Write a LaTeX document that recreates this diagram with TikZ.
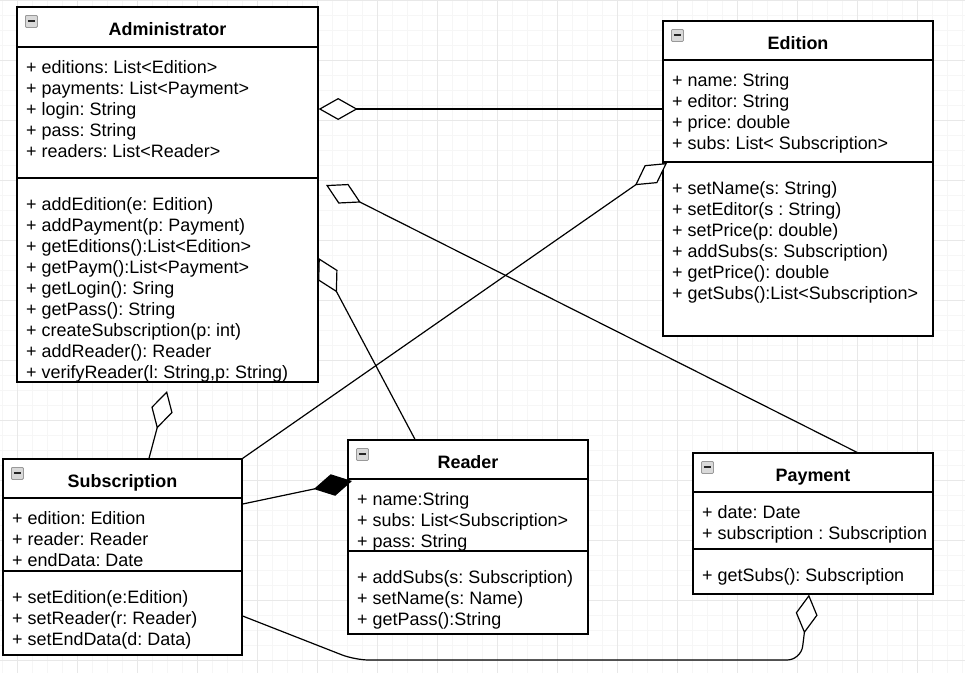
\documentclass[tikz,border=0pt]{standalone}
\usepackage{fontspec}
\setmainfont{Liberation Sans}
\usetikzlibrary{arrows.meta}
\newcommand\umlfont{\fontsize{17.95pt}{21pt}\selectfont\frenchspacing}

\begin{document}
\begin{tikzpicture}[x=1pt,y=-1pt]
	\tikzset{
		cls/.style={draw,line width=1.3pt,fill=white,inner sep=0pt},
		ttl/.style={font=\umlfont\bfseries,anchor=base,inner sep=0pt},
		txt/.style={font=\umlfont,align=left,anchor=north west,inner sep=0pt},
		tog/.style={draw=gray!80,fill=gray!30,line width=0.8pt,rounded corners=1pt,anchor=north west,
			minimum width=12pt,minimum height=12pt,inner sep=0pt,
			path picture={\draw[line width=2pt,gray!30!black]
				([xshift=2.5pt]path picture bounding box.west)--([xshift=-2.5pt]path picture bounding box.east);}},
		sep/.style={line width=1.3pt},
		agg/.style={line width=1.2pt,-{Diamond[fill=white,length=39pt,width=22pt]}},
		comp/.style={line width=1.2pt,-{Diamond[length=39pt,width=22pt]}}}
	\useasboundingbox (0,0) rectangle (965,673);
	\fill[white] (0,0) rectangle (965,673);
	% grid
	\foreach \i in {2.5,17.5,...,962.5} \draw[gray!7] (\i,0)--(\i,673);
	\foreach \j in {0,15,...,670} \draw[gray!7] (0,\j)--(965,\j);
	\foreach \i in {17.5,77.5,...,917.5} \draw[gray!18] (\i,0)--(\i,673);
	\foreach \j in {0,60,...,660} \draw[gray!18] (0,\j)--(965,\j);

	% Administrator
	\node[cls,minimum width=301pt,minimum height=375pt](adm) at (167.5,194.5){};
	\node[tog](t1) at (25,15){};
	\node[ttl](adm-t) at (167.5,35){Administrator};
	\draw[sep](adm.west |- 0,47)--(adm.east |- 0,47);
	\draw[sep](adm.west |- 0,178)--(adm.east |- 0,178);
	\node[txt](adm-a) at (26,58.3){\strut+ editions: List<Edition>\\+ payments: List<Payment>\\+ login: String\\+ pass: String\\+ readers: List<Reader>};
	\node[txt](adm-o) at (26,195.3){\strut+ addEdition(e: Edition)\\+ addPayment(p: Payment)\\+ getEditions():List<Edition>\\+ getPaym():List<Payment>\\+ getLogin(): Sring\\+ getPass(): String\\+ createSubscription(p: int)\\+ addReader(): Reader\\+ verifyReader(l: String,p: String)};

	% Edition
	\node[cls,minimum width=270pt,minimum height=315pt](ed) at (798,178.5){};
	\node[tog](t2) at (671,29){};
	\node[ttl](ed-t) at (798,49){Edition};
	\draw[sep](ed.west |- 0,60)--(ed.east |- 0,60);
	\draw[sep](ed.west |- 0,162)--(ed.east |- 0,162);
	\node[txt](ed-a) at (672,71.3){\strut+ name: String\\+ editor: String\\+ price: double\\+ subs: List< Subscription>};
	\node[txt](ed-o) at (672,179.3){\strut+ setName(s: String)\\+ setEditor(s : String)\\+ setPrice(p: double)\\+ addSubs(s: Subscription)\\+ getPrice(): double\\+ getSubs():List<Subscription>};

	% Subscription
	\node[cls,minimum width=239pt,minimum height=196pt](sub) at (122.5,557){};
	\node[tog](t3) at (11,467){};
	\node[ttl](sub-t) at (122.5,487){Subscription};
	\draw[sep](sub.west |- 0,498)--(sub.east |- 0,498);
	\draw[sep](sub.west |- 0,571)--(sub.east |- 0,571);
	\node[txt](sub-a) at (12,509.3){\strut+ edition: Edition\\+ reader: Reader\\+ endData: Date};
	\node[txt](sub-o) at (12,588.3){\strut+ setEdition(e:Edition)\\+ setReader(r: Reader)\\+ setEndData(d: Data)};

	% Reader
	\node[cls,minimum width=240pt,minimum height=194pt](rd) at (468,537){};
	\node[tog](t4) at (356,448){};
	\node[ttl](rd-t) at (468,468){Reader};
	\draw[sep](rd.west |- 0,479)--(rd.east |- 0,479);
	\draw[sep](rd.west |- 0,551)--(rd.east |- 0,551);
	\node[txt](rd-a) at (357,490.3){\strut+ name:String\\+ subs: List<Subscription>\\+ pass: String};
	\node[txt](rd-o) at (357,568.3){\strut+ addSubs(s: Subscription)\\+ setName(s: Name)\\+ getPass():String};

	% Payment
	\node[cls,minimum width=240pt,minimum height=141pt](pay) at (813,523.5){};
	\node[tog](t5) at (701,461){};
	\node[ttl](pay-t) at (813,481){Payment};
	\draw[sep](pay.west |- 0,492)--(pay.east |- 0,492);
	\draw[sep](pay.west |- 0,549)--(pay.east |- 0,549);
	\node[txt](pay-a) at (702,503.3){\strut+ date: Date\\+ subscription : Subscription};
	\node[txt](pay-o) at (702,566.3){\strut+ getSubs(): Subscription};

	% links
	\coordinate (e1) at (667,163);
	\coordinate (a1) at (326,185);
	\coordinate (a2) at (167,391);
	\coordinate (r1) at (352,481);
	\draw[agg](ed.west |- 0,109)--(adm.east |- 0,109);
	\draw[agg](sub.north east)--(e1);
	\draw[agg](857,0 |- pay.north)--(a1);
	\draw[agg](415,0 |- rd.north)--(adm.east |- 0,258);
	\draw[agg](149,0 |- sub.north)--(a2);
	\draw[comp](sub.east |- 0,504)--(r1);
	\draw[agg,rounded corners=14pt](sub.east |- 0,616)--(355,660)--(801,660)--(809,0 |- pay.south);
\end{tikzpicture}
\end{document}
